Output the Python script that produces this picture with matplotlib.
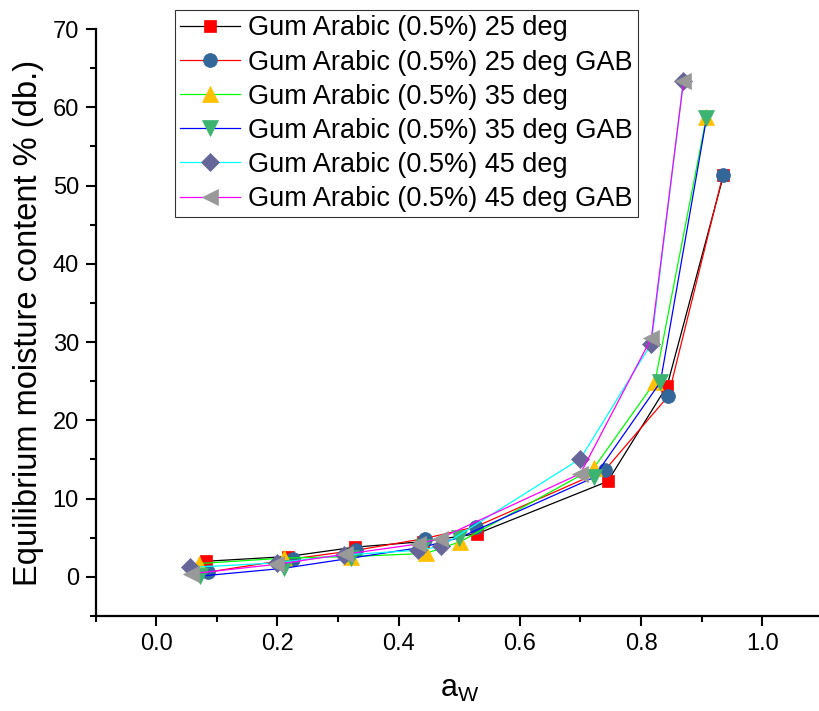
# sorption isotherms - gum arabic 0.5%
import matplotlib.pyplot as plt
from matplotlib.ticker import MultipleLocator

plt.rcParams['font.family'] = ['Liberation Sans', 'DejaVu Sans']

# water activity and moisture content (% db)
aw_25 = [0.083, 0.217, 0.328, 0.44, 0.529, 0.745, 0.843, 0.936]
emc_25 = [2.0, 2.6, 3.8, 4.5, 5.5, 12.2, 24.4, 51.3]
aw_25_gab = [0.085, 0.225, 0.33, 0.443, 0.527, 0.741, 0.845, 0.935]
emc_25_gab = [0.6, 2.3, 3.4, 4.9, 6.4, 13.7, 23.1, 51.3]

aw_35 = [0.07, 0.211, 0.322, 0.445, 0.502, 0.722, 0.823, 0.908]
emc_35 = [1.7, 2.4, 2.6, 3.0, 4.5, 13.9, 24.9, 58.8]
aw_35_gab = [0.073, 0.211, 0.322, 0.44, 0.5, 0.722, 0.832, 0.908]
emc_35_gab = [0.1, 1.1, 2.4, 3.8, 5.0, 12.7, 24.9, 58.6]

aw_45 = [0.055, 0.2, 0.31, 0.432, 0.47, 0.70, 0.817, 0.87]
emc_45 = [1.2, 1.8, 2.8, 3.4, 3.9, 15.1, 29.8, 63.4]
aw_45_gab = [0.058, 0.198, 0.312, 0.432, 0.468, 0.70, 0.817, 0.87]
emc_45_gab = [0.4, 1.6, 2.9, 4.2, 4.9, 13.2, 30.5, 63.3]

labels = ['Gum Arabic (0.5%) 25 deg', 'Gum Arabic (0.5%) 25 deg GAB',
          'Gum Arabic (0.5%) 35 deg', 'Gum Arabic (0.5%) 35 deg GAB',
          'Gum Arabic (0.5%) 45 deg', 'Gum Arabic (0.5%) 45 deg GAB']

series = [(aw_25, emc_25), (aw_25_gab, emc_25_gab), (aw_35, emc_35),
          (aw_35_gab, emc_35_gab), (aw_45, emc_45), (aw_45_gab, emc_45_gab)]
line_colors = ['black', '#FF0000', '#00FF00', '#0000FF', '#00FFFF', '#FF00FF']
marker_colors = ['#FF0000', '#336699', '#FFC000', '#3CB371', '#666699', '#999999']
markers = ['s', 'o', '^', 'v', 'D', '<']
msizes = [9, 10, 11, 11, 9, 11]

fig = plt.figure(figsize=(8.19, 7.11), dpi=100)
ax = fig.add_axes([0.1167, 0.1336, 0.888, 0.8256])

for (x, y), lab, lc, mc, m, ms in zip(series, labels, line_colors, marker_colors, markers, msizes):
    ax.plot(x, y, color=lc, lw=0.9, marker=m, markersize=ms,
            markerfacecolor=mc, markeredgecolor=mc, markeredgewidth=0.5, label=lab)

ax.set_xlim(-0.1, 1.1)
ax.set_ylim(-5, 70)
ax.xaxis.set_minor_locator(MultipleLocator(0.1))
ax.yaxis.set_major_locator(MultipleLocator(10))
ax.yaxis.set_minor_locator(MultipleLocator(5))
ax.set_xticks([0.0, 0.2, 0.4, 0.6, 0.8, 1.0])
ax.set_xticklabels(['0.0', '0.2', '0.4', '0.6', '0.8', '1.0'])

for s in ['top', 'right']:
    ax.spines[s].set_visible(False)
for s in ['left', 'bottom']:
    ax.spines[s].set_linewidth(1.6)
ax.tick_params(which='major', direction='out', length=7, width=1.5, labelsize=17, pad=5)
ax.tick_params(which='minor', direction='out', length=4, width=1.5)

ax.set_ylabel('Equilibrium moisture content % (db.)', fontsize=23.5, labelpad=6)
ax.set_xlabel(r'a$_\mathregular{W}$', fontsize=22, labelpad=14)

leg = ax.legend(loc='upper left', bbox_to_anchor=(175 / 819, 1 - 10 / 711),
                bbox_transform=fig.transFigure, fontsize=19.5, frameon=True,
                fancybox=False, edgecolor='black', handlelength=2.2,
                labelspacing=0.3, borderpad=0.2, handletextpad=0.3, borderaxespad=0)
leg.get_frame().set_linewidth(0.8)

fig.savefig('out.png', dpi=100)
